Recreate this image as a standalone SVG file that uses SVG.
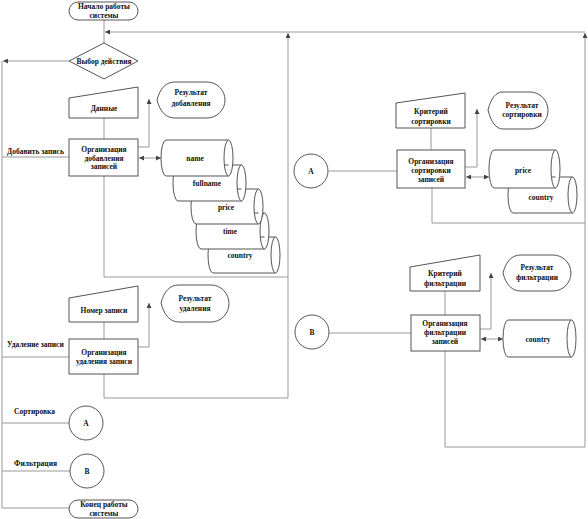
<svg xmlns="http://www.w3.org/2000/svg" width="588" height="519" viewBox="0 0 588 519">
<style>
.s{fill:#fff;stroke:#555;stroke-width:1}
.l{fill:none;stroke:#999;stroke-width:1}
.a{marker-end:url(#ar)}
.d{marker-start:url(#ar);marker-end:url(#ar)}
text{font-family:"Liberation Serif","Times New Roman",serif;font-weight:bold;font-size:7.5px;fill:#111;text-anchor:middle}
text.lt{text-anchor:start}
</style>
<defs>
<marker id="ar" viewBox="0 0 6 6" refX="6" refY="3" markerWidth="5" markerHeight="5" markerUnits="userSpaceOnUse" orient="auto-start-reverse">
<path d="M0,0 L6,3 L0,6 Z" fill="#444"/>
</marker>
</defs>
<rect width="588" height="519" fill="#fff"/>
<g id="connectors">
<path class="l" d="M104,20 V43"/>
<path class="l a" d="M585,32 H105"/>
<path class="l a" d="M445,351 V447 H585 V33"/>
<path class="l" d="M432,188 V223 H585"/>
<path class="l" d="M104,176 V277 H288"/>
<path class="l a" d="M104,374 V398 H288 V33"/>
<path class="l a" d="M69,61 H3"/>
<path class="l" d="M2,61 V508 H69"/>
<path class="l" d="M2,157 H69"/>
<path class="l" d="M2,357 H69"/>
<path class="l" d="M2,423 H69"/>
<path class="l" d="M2,471 H70"/>
<path class="l" d="M104,118 V139"/>
<path class="l" d="M104,322 V339"/>
<path class="l a" d="M138,147 H149 V99"/>
<path class="l a" d="M138,347 H149 V303"/>
<path class="l a" d="M465,167 H477 V109"/>
<path class="l a" d="M480,329 H491 V273"/>
<path class="l d" d="M139,158 H161"/>
<path class="l d" d="M466,177 H489"/>
<path class="l d" d="M481,339 H503"/>
<path class="l" d="M329,171 H397"/>
<path class="l" d="M329,333 H411"/>
<path class="l" d="M431,128 V150"/>
<path class="l" d="M445,291 V315"/>
</g>
<g id="start">
<rect class="s" x="69" y="2" width="69" height="18" rx="9"/>
<text x="104" y="9">Начало работы</text>
<text x="104" y="18">системы</text>
</g>
<g id="choice">
<path class="s" d="M69,61 L104,43 L138,61 L104,79 Z"/>
<text x="104" y="64">Выбор действия</text>
</g>
<g id="data">
<path class="s" d="M69,98 L138,87 L138,118 L69,118 Z"/>
<text x="104" y="111">Данные</text>
</g>
<g id="addproc">
<rect class="s" x="69" y="139" width="69" height="37"/>
<text x="104" y="152">Организация</text>
<text x="104" y="160.5">добавления</text>
<text x="104" y="169">записей</text>
</g>
<g id="addres">
<path class="s" d="M157,100 C160,88 166,82 175,82 L207,82 A18,18 0 0 1 207,118 L175,118 C166,118 160,112 157,100 Z"/>
<text x="191" y="95">Результат</text>
<text x="191" y="106">добавления</text>
</g>
<g id="cyl-country">
<path class="s" d="M213,237 L275.5,237 A4.5,18 0 0 1 275.5,273 L213,273 A5,18 0 0 1 213,237 Z M275.5,237 A4.5,18 0 0 0 275.5,273"/>
<text x="240" y="258">country</text>
</g>
<g id="cyl-time">
<path class="s" d="M201,213 L264.5,213 A4.5,18 0 0 1 264.5,249 L201,249 A5,18 0 0 1 201,213 Z M264.5,213 A4.5,18 0 0 0 264.5,249"/>
<text x="230" y="234">time</text>
</g>
<g id="cyl-price">
<path class="s" d="M196,189 L258.5,189 A4.5,17.5 0 0 1 258.5,224 L196,224 A5,17.5 0 0 1 196,189 Z M258.5,189 A4.5,17.5 0 0 0 258.5,224"/>
<text x="226" y="210">price</text>
</g>
<g id="cyl-fullname">
<path class="s" d="M178,165 L241.5,165 A4.5,18 0 0 1 241.5,201 L178,201 A5,18 0 0 1 178,165 Z M241.5,165 A4.5,18 0 0 0 241.5,201"/>
<text x="207" y="186">fullname</text>
</g>
<g id="cyl-name">
<path class="s" d="M166,140 L228.5,140 A4.5,18 0 0 1 228.5,176 L166,176 A5,18 0 0 1 166,140 Z M228.5,140 A4.5,18 0 0 0 228.5,176"/>
<text x="195" y="161">name</text>
</g>
<g id="delnum">
<path class="s" d="M69,298 L138,286 L138,322 L69,322 Z"/>
<text x="104" y="313">Номер записи</text>
</g>
<g id="delproc">
<rect class="s" x="69" y="339" width="69" height="35"/>
<text x="104" y="355">Организация</text>
<text x="104" y="364">удаления записи</text>
</g>
<g id="delres">
<path class="s" d="M161,303 C164,291 170,285 179,285 L211,285 A18,18.5 0 0 1 211,322 L179,322 C170,322 164,315 161,303 Z"/>
<text x="195" y="301">Результат</text>
<text x="195" y="311">удаления</text>
</g>
<g id="labels">
<text class="lt" x="7" y="154">Добавить запись</text>
<text class="lt" x="7" y="347">Удаление записи</text>
<text class="lt" x="14" y="414">Сортировка</text>
<text class="lt" x="14" y="466">Фильтрация</text>
</g>
<g id="connA-left">
<circle class="s" cx="86" cy="423" r="17"/>
<text x="86" y="426">A</text>
</g>
<g id="connB-left">
<circle class="s" cx="87" cy="471" r="17"/>
<text x="87" y="474">B</text>
</g>
<g id="end">
<rect class="s" x="69" y="500" width="69" height="18" rx="9"/>
<text x="104" y="507">Конец работы</text>
<text x="104" y="516">системы</text>
</g>
<g id="connA-right">
<circle class="s" cx="311" cy="171" r="17"/>
<text x="311" y="174">A</text>
</g>
<g id="sortcrit">
<path class="s" d="M396,103 L465,93 L465,128 L396,128 Z"/>
<text x="431" y="114">Критерий</text>
<text x="431" y="124">сортировки</text>
</g>
<g id="sortproc">
<rect class="s" x="397" y="150" width="68" height="38"/>
<text x="431" y="164">Организация</text>
<text x="431" y="173">сортировки</text>
<text x="431" y="182">записей</text>
</g>
<g id="sortres">
<path class="s" d="M488,110 C491,98 496,92 503,92 L530,92 A18,18.5 0 0 1 530,129 L503,129 C496,129 491,122 488,110 Z"/>
<text x="522" y="108">Результат</text>
<text x="522" y="117">сортировки</text>
</g>
<g id="sort-country">
<path class="s" d="M513,177 L572.5,177 A4.5,18 0 0 1 572.5,213 L513,213 A5,18 0 0 1 513,177 Z M572.5,177 A4.5,18 0 0 0 572.5,213"/>
<text x="541" y="200">country</text>
</g>
<g id="sort-price">
<path class="s" d="M494,150 L555.5,150 A4.5,19 0 0 1 555.5,188 L494,188 A5,19 0 0 1 494,150 Z M555.5,150 A4.5,19 0 0 0 555.5,188"/>
<text x="523" y="173">price</text>
</g>
<g id="connB-right">
<circle class="s" cx="312" cy="332" r="17"/>
<text x="312" y="335">B</text>
</g>
<g id="filtcrit">
<path class="s" d="M410,267 L480,255 L480,291 L410,291 Z"/>
<text x="445" y="276">Критерий</text>
<text x="445" y="286">фильтрации</text>
</g>
<g id="filtproc">
<rect class="s" x="411" y="315" width="69" height="36"/>
<text x="445" y="326">Организация</text>
<text x="445" y="335">фильтрации</text>
<text x="445" y="344">записей</text>
</g>
<g id="filtres">
<path class="s" d="M503,273 C506,261 512,255 521,255 L553,255 A18,18 0 0 1 553,291 L521,291 C512,291 506,285 503,273 Z"/>
<text x="537" y="270">Результат</text>
<text x="537" y="280">фильтрации</text>
</g>
<g id="filt-country">
<path class="s" d="M508,320 L571.5,320 A4.5,18.5 0 0 1 571.5,357 L508,357 A5,18.5 0 0 1 508,320 Z M571.5,320 A4.5,18.5 0 0 0 571.5,357"/>
<text x="538" y="342">country</text>
</g>
</svg>
